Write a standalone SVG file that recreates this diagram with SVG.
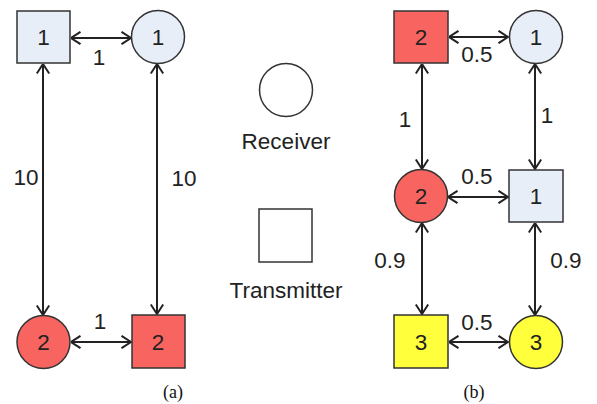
<svg xmlns="http://www.w3.org/2000/svg" width="597" height="404" viewBox="0 0 597 404">
  <style>
    .node { stroke: #333; stroke-width: 1.5; }
    .blue { fill: #e8eef8; }
    .red { fill: #f86460; }
    .yellow { fill: #ffff3c; }
    .white { fill: #ffffff; }
    .lbl { font-family: "Liberation Sans", Arial, sans-serif; font-size: 22.5px; fill: #222; text-anchor: middle; }
    .cap { font-family: "Liberation Serif", "Times New Roman", serif; font-size: 18px; fill: #111; text-anchor: middle; }
    .edge { stroke: #222; stroke-width: 2; fill: none; marker-start: url(#head); marker-end: url(#head); }
  </style>
  <defs>
    <marker id="head" viewBox="0 0 11 14" refX="10.5" refY="7" markerWidth="11" markerHeight="14" markerUnits="userSpaceOnUse" orient="auto-start-reverse">
      <path d="M1,0.8 L10.5,7 L1,13.2" fill="none" stroke="#222" stroke-width="2"/>
    </marker>
  </defs>
  <rect width="597" height="404" fill="#ffffff"/>

  <!-- connectors -->
  <g id="connectors">
    <!-- (a) -->
    <line class="edge" x1="71" y1="38" x2="131" y2="38"/>
    <line class="edge" x1="43" y1="64" x2="43" y2="315"/>
    <line class="edge" x1="157" y1="64" x2="157" y2="314"/>
    <line class="edge" x1="71" y1="342" x2="131" y2="342"/>
    <!-- (b) -->
    <line class="edge" x1="449" y1="37" x2="508" y2="37"/>
    <line class="edge" x1="422" y1="64" x2="422" y2="169"/>
    <line class="edge" x1="535" y1="64" x2="535" y2="169"/>
    <line class="edge" x1="448" y1="197" x2="508" y2="197"/>
    <line class="edge" x1="422" y1="223" x2="422" y2="314"/>
    <line class="edge" x1="535" y1="223" x2="535" y2="315"/>
    <line class="edge" x1="449" y1="342" x2="508" y2="342"/>
  </g>

  <!-- edge weights -->
  <g id="weights">
    <text class="lbl" x="99" y="65">1</text>
    <text class="lbl" x="26" y="185">10</text>
    <text class="lbl" x="184" y="186">10</text>
    <text class="lbl" x="100" y="329">1</text>
    <text class="lbl" x="477" y="62">0.5</text>
    <text class="lbl" x="405" y="127">1</text>
    <text class="lbl" x="547" y="123">1</text>
    <text class="lbl" x="477" y="184">0.5</text>
    <text class="lbl" x="390" y="268">0.9</text>
    <text class="lbl" x="566" y="268">0.9</text>
    <text class="lbl" x="477" y="330">0.5</text>
  </g>

  <!-- (a) nodes -->
  <g id="a-tx1"><rect class="node blue" x="17" y="11" width="53" height="52"/><text class="lbl" x="43.5" y="45">1</text></g>
  <g id="a-rx1"><circle class="node blue" cx="158" cy="37" r="26.5"/><text class="lbl" x="158" y="45">1</text></g>
  <g id="a-rx2"><circle class="node red" cx="43.5" cy="342" r="26.5"/><text class="lbl" x="43.5" y="350">2</text></g>
  <g id="a-tx2"><rect class="node red" x="132" y="315" width="53" height="53"/><text class="lbl" x="158" y="350">2</text></g>

  <!-- legend -->
  <g id="legend-receiver"><circle class="node white" cx="286" cy="90" r="26.5"/><text class="lbl" x="286" y="149">Receiver</text></g>
  <g id="legend-transmitter"><rect class="node white" x="259" y="209" width="53" height="53"/><text class="lbl" x="286" y="298">Transmitter</text></g>

  <!-- (b) nodes -->
  <g id="b-tx2"><rect class="node red" x="394" y="11" width="54" height="52"/><text class="lbl" x="421" y="45">2</text></g>
  <g id="b-rx1"><circle class="node blue" cx="536" cy="37" r="26.5"/><text class="lbl" x="536" y="45">1</text></g>
  <g id="b-rx2"><circle class="node red" cx="421" cy="196" r="26.5"/><text class="lbl" x="421" y="204">2</text></g>
  <g id="b-tx1"><rect class="node blue" x="509" y="170" width="54" height="52"/><text class="lbl" x="536" y="204">1</text></g>
  <g id="b-tx3"><rect class="node yellow" x="394" y="315" width="54" height="53"/><text class="lbl" x="421" y="350">3</text></g>
  <g id="b-rx3"><circle class="node yellow" cx="536" cy="342" r="26.5"/><text class="lbl" x="536" y="350">3</text></g>

  <!-- captions -->
  <text class="cap" x="173" y="398">(a)</text>
  <text class="cap" x="474" y="398">(b)</text>
</svg>
